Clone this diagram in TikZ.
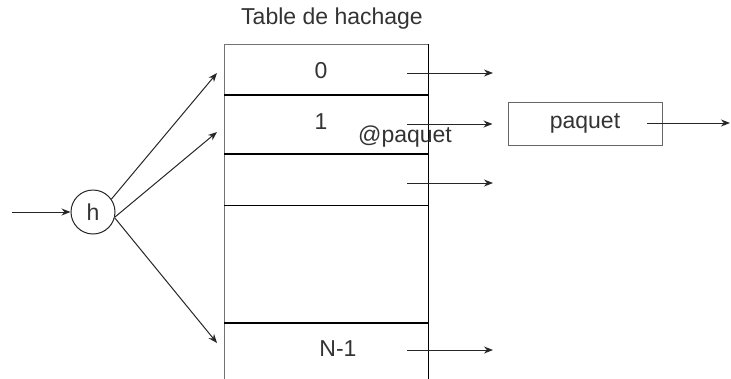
\documentclass[tikz,border=0pt]{standalone}
\usepackage{fontspec}
\setmainfont{Liberation Sans}
\usetikzlibrary{arrows.meta, positioning}

\begin{document}
\begin{tikzpicture}[x=1pt, y=-1pt, ->, >={Stealth[length=9pt,width=7pt]}, semithick,
    every node/.style={text=black!80, font=\fontsize{23}{27}\selectfont}]
      \tikzstyle{cell}=[inner sep=0pt, minimum width=204pt]
      \tikzstyle{sep}=[-, line width=2pt, black]
      \tikzstyle{lnk}=[black!85, line width=1pt]
      \useasboundingbox (0,0) rectangle (731,378);
      % table rows
      \node[cell, minimum height=50pt, anchor=north west] (R0) at (224,44) {};
      \node[cell, minimum height=59pt] (R1) [below =0pt of R0] {};
      \node[cell, minimum height=51pt] (R2) [below =0pt of R1] {};
      \node[cell, minimum height=117pt] (R3) [below =0pt of R2] {};
      \node[cell, minimum height=57pt] (R4) [below =0pt of R3] {};
      \draw[-, black!55, line width=1pt] (R4.south west) -- (R0.north west) -- (R0.north east);
      \draw[-, black, line width=1pt] (R0.north east) -- (R4.south east);
      \draw[sep] (R0.south west) -- (R0.south east);
      \draw[sep] (R1.south west) -- (R1.south east);
      \draw[-, black, line width=1pt] (R2.south west) -- (R2.south east);
      \draw[sep] (R3.south west) -- (R3.south east);
      \node (T) at (332,19) {Table de hachage};
      \node (L0) at (321,71) {0};
      \node (L1) at (321,122) {1};
      \node (A) at (405,137) {@paquet};
      \node (LN) at (338,349) {N-1};
      % hash function
      \node[circle, draw=black!85, line width=1pt, minimum size=44pt, inner sep=0pt] (H) at (93,212) {h};
      \coordinate (in) at (12,212);
      \draw[lnk] (in) -- (H.west);
      \coordinate (e0) at (217,73);
      \coordinate (e1) at (217,132);
      \coordinate (e3) at (217,343);
      \draw[lnk] (H.35) -- (e0);
      \draw[lnk] (H.-13) -- (e1);
      \draw[lnk] (H.-15) -- (e3);
      % lists
      \node[draw=black!60, line width=1pt, minimum width=154pt, minimum height=43pt, inner sep=0pt] (P) at (585,123.5) {paquet};
      \coordinate (s0) at (407,73);
      \coordinate (t0) at (493,73);
      \coordinate (s1) at (407,124);
      \coordinate (s2) at (407,183);
      \coordinate (t2) at (493,183);
      \coordinate (s4) at (407,350);
      \coordinate (t4) at (493,350);
      \coordinate (ps) at (647,123);
      \coordinate (pt) at (730,123);
      \draw[lnk] (s0) -- (t0);
      \draw[lnk] (s1) -- ([xshift=-15pt]P.west |- s1);
      \draw[lnk] (s2) -- (t2);
      \draw[lnk] (s4) -- (t4);
      \draw[lnk] (ps) -- (pt);
\end{tikzpicture}
\end{document}
